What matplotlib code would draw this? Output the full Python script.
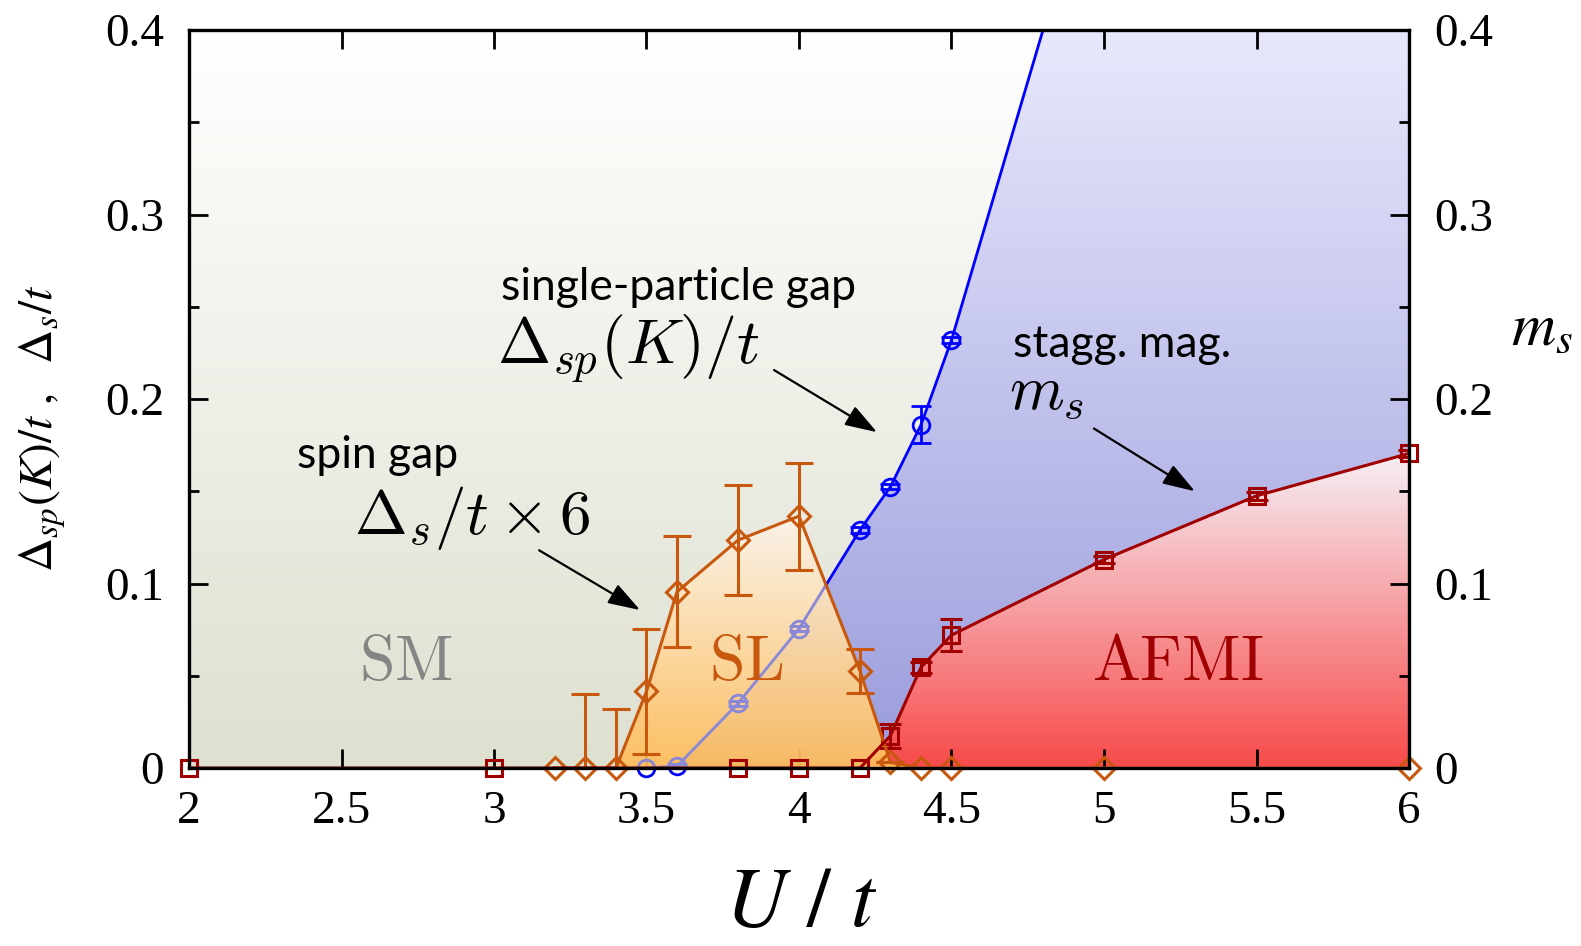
import numpy as np
import matplotlib
matplotlib.use("Agg")
import matplotlib.pyplot as plt
from matplotlib.patches import Polygon
from matplotlib.ticker import MultipleLocator

plt.rcParams['mathtext.fontset'] = 'cm'

# ---------------- data ----------------
# single-particle gap Delta_sp(K)/t (blue circles)
U_sp = [3.5, 3.6, 3.8, 4.0, 4.2, 4.3, 4.4, 4.5, 5.0]
gap_sp = [0.0, 0.001, 0.035, 0.0755, 0.129, 0.1525, 0.186, 0.232, 0.512]
err_sp = [0.0, 0.001, 0.0015, 0.0015, 0.0015, 0.0015, 0.010, 0.0015, 0.0015]

# spin gap Delta_s/t x 6 (orange diamonds)
U_s = [3.2, 3.3, 3.4, 3.5, 3.6, 3.8, 4.0, 4.2, 4.3, 4.4, 4.5, 5.0, 6.0]
gap_s = [0.0, 0.0, 0.0, 0.0415, 0.0955, 0.1235, 0.1365, 0.0525, 0.003, 0.0, 0.0, 0.0, 0.0]
err_s = [0.0, 0.040, 0.032, 0.034, 0.030, 0.030, 0.029, 0.012, 0.0, 0.0, 0.0, 0.0, 0.0]

# staggered magnetization m_s (red squares)
U_ms = [2.0, 3.0, 3.8, 4.0, 4.2, 4.3, 4.4, 4.5, 5.0, 5.5, 6.0]
ms = [0.0, 0.0, 0.0, 0.0, 0.0, 0.0175, 0.0546, 0.072, 0.113, 0.1475, 0.1705]
err_ms = [0.0, 0.0, 0.0, 0.0, 0.0, 0.0065, 0.003, 0.0085, 0.002, 0.002, 0.002]

xticks = [2, 2.5, 3, 3.5, 4, 4.5, 5, 5.5, 6]
xticklabels = ['2', '2.5', '3', '3.5', '4', '4.5', '5', '5.5', '6']
yticks = [0, 0.1, 0.2, 0.3, 0.4]
yticklabels = ['0', '0.1', '0.2', '0.3', '0.4']

XMIN, XMAX, YMIN, YMAX = 2.0, 6.0, 0.0, 0.4

BLUE = '#0000ff'
LAV = '#8a88d8'
ORANGE = '#c8580e'
RED = '#a00000'

W, H = 1581, 946
fig = plt.figure(figsize=(W / 100, H / 100), dpi=100)
ax = fig.add_axes([189 / W, 1 - 768 / H, 1220 / W, 738 / H])


def grad(ax, y0, y1, c_bot, c_top, zorder, verts=None, alpha=1.0):
    n = 256
    t = np.linspace(0, 1, n)[:, None]
    cols = (1 - t) * np.array(c_bot) / 255 + t * np.array(c_top) / 255
    img = cols[:, None, :]
    im = ax.imshow(img, extent=[XMIN, XMAX, y0, y1], origin='lower',
                   aspect='auto', zorder=zorder, alpha=alpha,
                   interpolation='bilinear')
    patch = None
    if verts is not None:
        patch = Polygon(verts, closed=True, transform=ax.transData,
                        facecolor='none', edgecolor='none')
        im.set_clip_path(patch)
    return im, patch


# background (semi-metal)
grad(ax, YMIN, YMAX, (222, 224, 208), (255, 255, 255), 0)

# blue region (below single-particle gap curve)
blue_verts = [(U_sp[0], 0)] + list(zip(U_sp, gap_sp)) + [(XMAX, gap_sp[-1]), (XMAX, 0)]
grad(ax, YMIN, YMAX, (154, 156, 220), (232, 232, 252), 1, blue_verts)

# red region (below m_s curve)
red_verts = [(U_ms[0], 0)] + list(zip(U_ms, ms)) + [(U_ms[-1], 0)]
grad(ax, YMIN, max(ms), (248, 74, 74), (245, 240, 246), 1.5, red_verts)

# orange region (below spin gap curve)
or_verts = [(U_s[0], 0)] + list(zip(U_s, gap_s)) + [(U_s[-1], 0)]
grad(ax, YMIN, max(gap_s), (255, 189, 90), (251, 244, 234), 3, or_verts, alpha=0.93)

# blue curve
eb = ax.errorbar(U_sp, gap_sp, yerr=err_sp, color=BLUE, lw=2.0, capsize=7,
                 capthick=2.0, elinewidth=2.0, zorder=2, fmt='-')
ax.plot(U_sp, gap_sp, ls='none', marker='o', ms=12, mfc='none', mec=BLUE,
        mew=2.0, zorder=2, clip_on=False)
# lavender portion inside the orange region
eb2 = ax.errorbar(U_sp, gap_sp, yerr=err_sp, color=LAV, lw=2.0, capsize=7,
                  capthick=2.0, elinewidth=2.0, zorder=3.5, fmt='-')
m2, = ax.plot(U_sp, gap_sp, ls='none', marker='o', ms=12, mfc='none', mec=LAV,
              mew=2.0, zorder=3.5)
clip_p = Polygon(or_verts, closed=True, transform=ax.transData)
for art in [eb2.lines[0], m2] + list(eb2.lines[1]) + list(eb2.lines[2]):
    art.set_clip_path(clip_p)

# orange curve
ax.errorbar(U_s, gap_s, yerr=err_s, color=ORANGE, lw=2.2, capsize=10,
            capthick=2.2, elinewidth=2.2, zorder=5, fmt='-')
ax.plot(U_s, gap_s, ls='none', marker='D', ms=11, mfc='none', mec=ORANGE,
        mew=2.2, zorder=5, clip_on=False)

# red curve
ax.errorbar(U_ms, ms, yerr=err_ms, color=RED, lw=2.2, capsize=8,
            capthick=2.2, elinewidth=2.2, zorder=5, fmt='-')
ax.plot(U_ms, ms, ls='none', marker='s', ms=11, mfc='none', mec=RED,
        mew=2.2, zorder=5, clip_on=False)

ax.set_xlim(XMIN, XMAX)
ax.set_ylim(YMIN, YMAX)

# ticks / spines
ax.set_xticks(xticks)
ax.set_xticklabels(xticklabels)
ax.set_yticks(yticks)
ax.set_yticklabels(yticklabels)
ax.yaxis.set_minor_locator(MultipleLocator(0.05))
ax.tick_params(which='both', direction='in', top=True, right=True,
               labelright=True, width=2.0, colors='black')
ax.tick_params(which='major', length=14)
ax.tick_params(which='minor', length=7)
ax.tick_params(axis='x', pad=16)
ax.tick_params(axis='y', pad=18)
for lab in ax.get_xticklabels() + ax.get_yticklabels():
    lab.set_fontfamily('Liberation Serif')
    lab.set_fontsize(34)
for t in ax.yaxis.get_major_ticks():
    t.label2.set_fontfamily('Liberation Serif')
    t.label2.set_fontsize(34)
for sp in ax.spines.values():
    sp.set_linewidth(2.4)
    sp.set_zorder(10)

# axis labels
fig.text(43 / W, 1 - 428 / H, r'$\mathit{\Delta}_{sp}(K)/t\ ,\ \ \mathit{\Delta}_s/t$',
         rotation=90, ha='center', va='center', fontsize=34, math_fontfamily='stix')
fig.text(1542 / W, 1 - 328 / H, r'$m_s$', ha='center', va='center',
         fontsize=44, math_fontfamily='stix')
fig.text(801 / W, 1 - 902 / H, r'$U\ /\ t$', ha='center', va='center',
         fontsize=61, math_fontfamily='stix')

# annotations
SANS = 'Lato'
ax.text(3.023, 0.2607, 'single-particle gap', fontfamily=SANS, fontsize=32,
        ha='left', va='center', zorder=12)
ax.text(3.010, 0.227, r'$\Delta_{sp}(K)/t$', fontsize=46, ha='left', va='center', zorder=12)
ax.text(2.354, 0.1696, 'spin gap', fontfamily=SANS, fontsize=32,
        ha='left', va='center', zorder=12)
ax.text(2.540, 0.1355, r'$\Delta_s/t\times 6$', fontsize=45.5, ha='left', va='center', zorder=12)
ax.text(4.702, 0.2298, 'stagg. mag.', fontfamily=SANS, fontsize=32,
        ha='left', va='center', zorder=12)
ax.text(4.690, 0.2043, r'$m_s$', fontsize=45, ha='left', va='center', zorder=12)

arw = dict(arrowstyle='-|>,head_length=0.9,head_width=0.3', color='black',
           lw=1.6, mutation_scale=22, shrinkA=0, shrinkB=0)
ax.annotate('', xy=(4.256, 0.182), xytext=(3.918, 0.2157), arrowprops=arw, zorder=12)
ax.annotate('', xy=(3.479, 0.0856), xytext=(3.148, 0.118), arrowprops=arw, zorder=12)
ax.annotate('', xy=(5.298, 0.150), xytext=(4.967, 0.184), arrowprops=arw, zorder=12)

# phase labels
ax.text(2.711, 0.0574, r'$\mathrm{SM}$', color='#858585', fontsize=46,
        ha='center', va='center', zorder=12)
ax.text(3.826, 0.0574, r'$\mathrm{SL}$', color=ORANGE, fontsize=46,
        ha='center', va='center', zorder=12)
ax.text(5.243, 0.0574, r'$\mathrm{AFMI}$', color=RED, fontsize=46,
        ha='center', va='center', zorder=12)

fig.savefig('out.png', dpi=100)
